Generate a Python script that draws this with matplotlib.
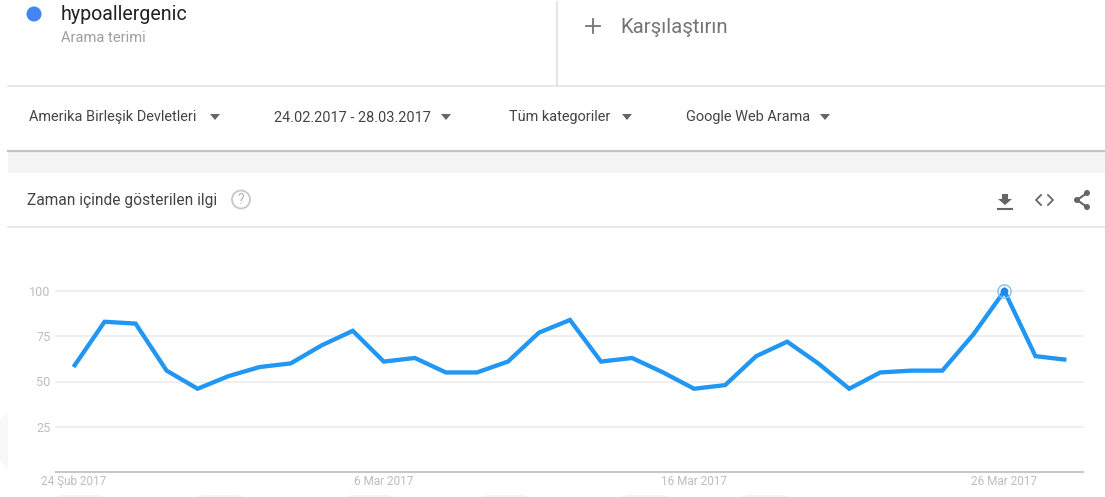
#!/usr/bin/env python3
import matplotlib

matplotlib.use("Agg")
import matplotlib.pyplot as plt  # noqa: E402
from matplotlib.patches import Circle, Polygon  # noqa: E402

W, H = 1105, 497

interest = [58, 83, 82, 56, 46, 53, 58, 60, 70, 78, 61, 63, 55, 55, 61, 77, 84,
            61, 63, 55, 46, 48, 64, 72, 60, 46, 55, 56, 56, 76, 100, 64, 62]
y_ticks = [25, 50, 75, 100]
x_tick_pos = [0, 10, 20, 30]
x_tick_labels = ["24 Şub 2017", "6 Mar 2017", "16 Mar 2017", "26 Mar 2017"]

term = "hypoallergenic"
term_sub = "Arama terimi"
compare = "Karşılaştırın"
filters = [("Amerika Birleşik Devletleri", 29, 215),
           ("24.02.2017 - 28.03.2017", 274, 446),
           ("Tüm kategoriler", 509, 627),
           ("Google Web Arama", 686, 825)]
section_title = "Zaman içinde gösterilen ilgi"

plt.rcParams["font.family"] = ["Roboto", "DejaVu Sans"]
fig = plt.figure(figsize=(W / 100, H / 100), dpi=100, facecolor="white")

# page chrome, in pixel coordinates
bg = fig.add_axes([0, 0, 1, 1], zorder=0)
bg.set_xlim(0, W)
bg.set_ylim(H, 0)
bg.axis("off")


def px(size):
    return size * 0.72


bg.axhspan(152, 173, xmin=8 / W, color="#f5f5f5", lw=0)
bg.plot([8, W], [151, 151], color="#c4c4c4", lw=1.6)
bg.plot([8, W], [86, 86], color="#e4e4e4", lw=1.2)
bg.plot([8, W], [227, 227], color="#e6e6e6", lw=1.2)
bg.plot([557, 557], [2, 86], color="#e0e0e0", lw=1.2)

bg.add_patch(Circle((34, 14), 7.5, color="#4285f4", lw=0))
bg.text(61, 15, term, fontsize=px(19.6), color="#222222", va="center")
bg.text(61, 37.5, term_sub, fontsize=px(14.7), color="#9e9e9e", va="center")

bg.plot([586, 600], [26, 26], color="#757575", lw=1.3)
bg.plot([593, 593], [19, 33], color="#757575", lw=1.3)
bg.text(620, 27.5, compare, fontsize=px(20.4), color="#757575", va="center")

for label, x, arrow_x in filters:
    bg.text(x, 117.5, label, fontsize=px(14.5), color="#444444", va="center")
    bg.add_patch(Polygon([(arrow_x - 5, 114), (arrow_x + 5, 114), (arrow_x, 120)],
                         color="#666666", lw=0))

bg.text(27, 200.5, section_title, fontsize=px(15.5), color="#444444", va="center")
bg.add_patch(Circle((241, 199.5), 9, fill=False, ec="#c8c8c8", lw=1.3))
bg.text(241, 200, "?", fontsize=px(14), color="#b5b5b5", ha="center", va="center")

# download icon
bg.add_patch(Polygon([(1002, 194), (1008, 194), (1008, 199), (1012, 199), (1005, 205),
                      (998, 199), (1002, 199)], color="#666666", lw=0))
bg.plot([998, 1012], [208.5, 208.5], color="#666666", lw=1.5)
# embed icon
bg.plot([1041, 1036, 1041], [195, 200, 205], color="#666666", lw=1.3)
bg.plot([1048, 1053, 1048], [195, 200, 205], color="#666666", lw=1.3)
# share icon
bg.plot([1087, 1077, 1087], [193, 200, 207], color="#666666", lw=1.5)
for cx, cy in [(1087, 193), (1077, 200), (1087, 207)]:
    bg.add_patch(Circle((cx, cy), 3, color="#666666", lw=0))

# faint watermark remains at the edge
bg.add_patch(Polygon([(0, 420), (8, 412), (8, 470), (0, 462)], color="#f8f8f8", lw=0))
for x0, x1 in [(55, 105), (195, 245), (345, 395), (480, 530), (620, 670), (740, 790)]:
    bg.add_patch(Polygon([(x0, 497), (x0 + 8, 495), (x1 - 8, 495), (x1, 497)],
                         color="#f3f3f3", lw=0))

# chart
left, right, top, bottom = 56, 1083, 291, 472
ax = fig.add_axes([left / W, 1 - bottom / H, (right - left) / W, (bottom - top) / H], zorder=1)
ax.patch.set_alpha(0)
days = list(range(len(interest)))
ax.set_xlim((left - 73.5) / 31.03, (right - 73.5) / 31.03)
ax.set_ylim(0, 100)
for side in ["top", "left", "right"]:
    ax.spines[side].set_visible(False)
ax.spines["bottom"].set_color("#c8c8c8")
ax.spines["bottom"].set_linewidth(1.5)

ax.set_yticks(y_ticks)
ax.set_xticks(x_tick_pos)
ax.set_xticklabels(x_tick_labels)
ax.tick_params(axis="both", length=0, labelsize=px(11.8), labelcolor="#bdbdbd")
ax.tick_params(axis="y", pad=4, labelsize=px(12.6))
ax.tick_params(axis="x", pad=2)
ax.grid(axis="y", color="#ececec", lw=1.2, clip_on=False)
ax.set_axisbelow(True)

ax.plot(days, interest, color="#2196f3", lw=3.1, solid_joinstyle="miter",
        solid_capstyle="butt", clip_on=False)
peak = interest.index(max(interest))
ax.plot([days[peak]], [interest[peak]], "o", ms=4.5, color="#1e88e5", clip_on=False)
ax.plot([days[peak]], [interest[peak]], "o", ms=9.5, mfc="none", mec="#7fc1f5", mew=1,
        clip_on=False)

fig.savefig("out.png", dpi=100)
